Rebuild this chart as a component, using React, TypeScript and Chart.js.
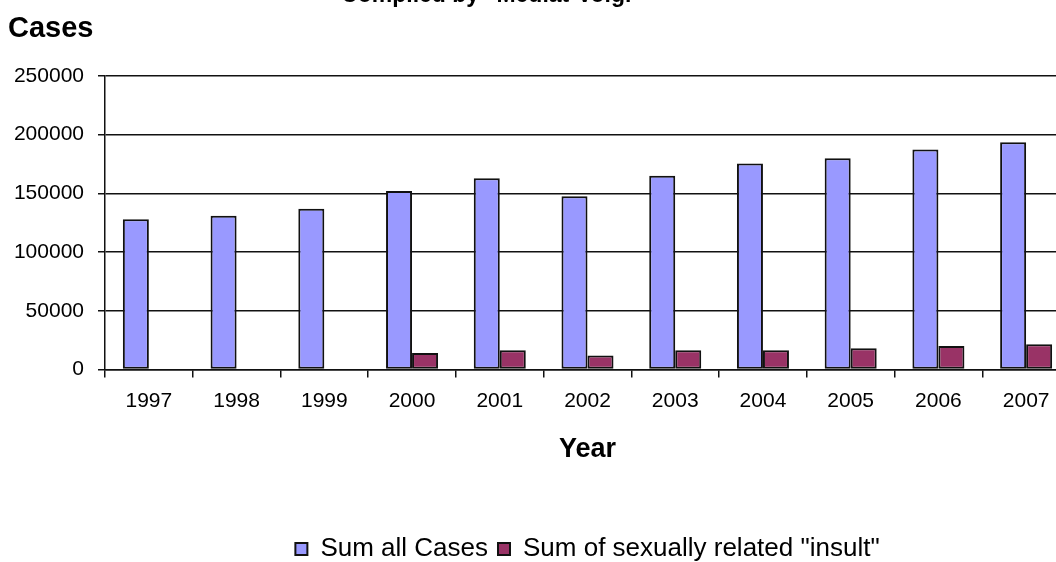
import React, { useEffect, useRef } from 'react';
import { Chart, registerables } from 'chart.js';

Chart.register(...registerables);

const years = ['1997', '1998', '1999', '2000', '2001', '2002', '2003', '2004', '2005', '2006', '2007'];
const sumAllCases = [128000, 131000, 137000, 152000, 163000, 147500, 165000, 175500, 180000, 187500, 193500];
const sexualInsult = [null, null, null, 14000, 16500, 12000, 16500, 16500, 18000, 20000, 21500];
const yTicks = [0, 50000, 100000, 150000, 200000, 250000];
const seriesNames = ['Sum all Cases', 'Sum of sexually related "insult"'];
const topTitle = 'Compiled by "Mediat-Volgr"';
const yTitle = 'Cases';
const xTitle = 'Year';

const FONT = '"Liberation Sans", Arial, sans-serif';

const textPlugin = {
  id: 'extraTexts',
  afterDraw(chart: any) {
    const ctx = chart.ctx;
    ctx.save();
    ctx.fillStyle = '#000';
    ctx.textBaseline = 'alphabetic';
    ctx.font = `bold 23px ${FONT}`;
    ctx.textAlign = 'center';
    ctx.fillText(topTitle, 493, 22);
    ctx.font = `bold 29px ${FONT}`;
    ctx.textAlign = 'left';
    ctx.fillText(yTitle, 8, 57);
    ctx.restore();
  },
};

export default function App() {
  const ref = useRef<HTMLCanvasElement>(null);

  useEffect(() => {
    if (!ref.current) return;
    Chart.defaults.color = '#000';
    const chart = new Chart(ref.current, {
      type: 'bar',
      data: {
        labels: years,
        datasets: [
          {
            label: seriesNames[0],
            data: sumAllCases,
            backgroundColor: '#9999FF',
            borderColor: '#111',
            borderWidth: 2,
            borderSkipped: false,
          },
          {
            label: seriesNames[1],
            data: sexualInsult,
            backgroundColor: '#993366',
            borderColor: '#111',
            borderWidth: 2,
            borderSkipped: false,
          },
        ],
      },
      options: {
        animation: false,
        responsive: true,
        maintainAspectRatio: false,
        devicePixelRatio: 1,
        datasets: { bar: { categoryPercentage: 0.593, barPercentage: 1 } },
        layout: { padding: { top: 96, left: 8, right: 30, bottom: 8 } },
        plugins: {
          title: { display: false },
          tooltip: { enabled: false },
          legend: {
            position: 'bottom',
            fullSize: false,
            labels: {
              boxWidth: 12,
              boxHeight: 12,
              padding: 10,
              color: '#000',
              font: { family: FONT, size: 26 },
            },
          },
        },
        scales: {
          x: {
            afterFit: (scale: any) => {
              scale.height = 156.5;
            },
            grid: {
              offset: true,
              drawOnChartArea: false,
              drawTicks: true,
              tickLength: 8,
              color: '#111',
              lineWidth: 1.5,
            },
            border: { color: '#111', width: 1.5 },
            ticks: {
              color: '#000',
              padding: 11,
              maxRotation: 0,
              autoSkip: false,
              font: { family: FONT, size: 21 },
            },
            title: {
              display: true,
              text: xTitle,
              color: '#000',
              font: { family: FONT, size: 27, weight: 'bold' },
              padding: { top: 0, bottom: 60 },
            },
          },
          y: {
            min: 0,
            max: 250000,
            afterFit: (scale: any) => {
              scale.width = 97;
            },
            afterBuildTicks: (scale: any) => {
              scale.ticks = yTicks.map((v) => ({ value: v }));
            },
            grid: {
              color: '#111',
              lineWidth: 1.5,
              tickLength: 7,
              drawTicks: true,
            },
            border: { color: '#111', width: 1.5 },
            ticks: {
              color: '#000',
              padding: 14,
              font: { family: FONT, size: 21 },
              callback: (v: any) => String(v),
            },
          },
        },
      },
      plugins: [textPlugin],
    });
    return () => chart.destroy();
  }, []);

  return (
    <div
      style={{
        position: 'fixed',
        left: 0,
        top: 0,
        width: 1056,
        height: 562,
        overflow: 'hidden',
        background: '#fff',
      }}
    >
      <div style={{ position: 'absolute', left: 0, top: -20, width: 1100, height: 600 }}>
        <canvas ref={ref} />
      </div>
    </div>
  );
}
